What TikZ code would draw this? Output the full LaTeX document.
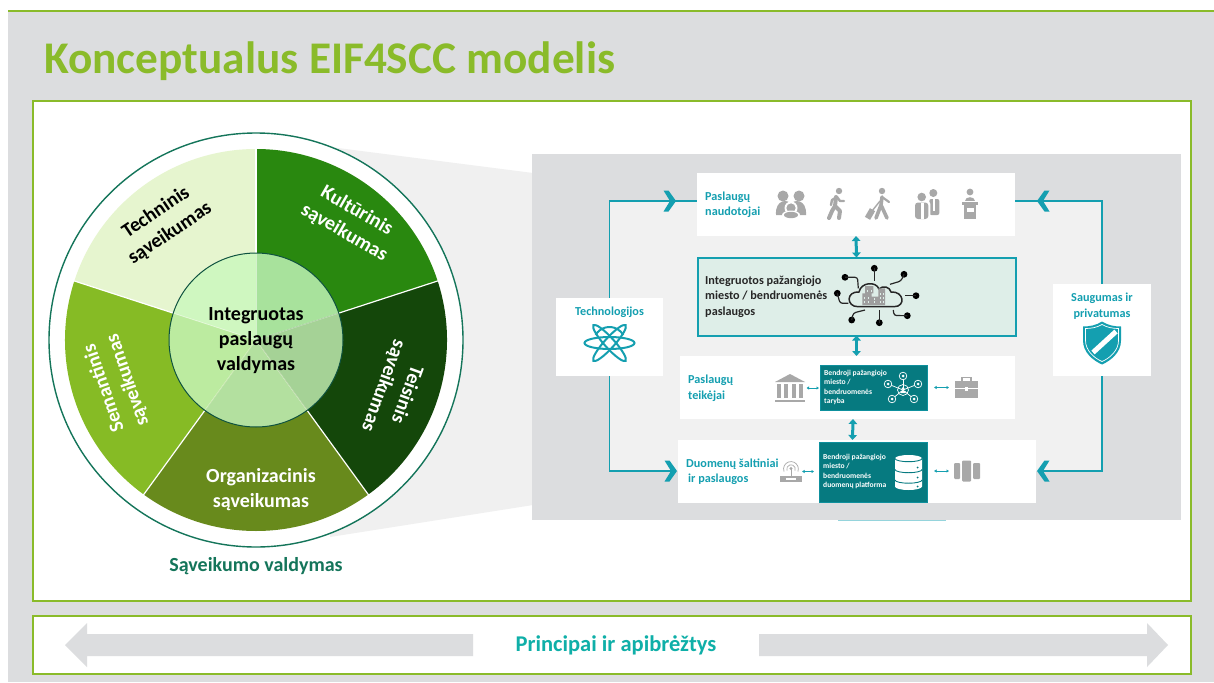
\documentclass[tikz,border=0pt]{standalone}
\usepackage{fontspec}
\setmainfont{Carlito}
\usetikzlibrary{arrows.meta,calc}

\definecolor{pagegrey}{HTML}{DCDDDF}
\definecolor{conegrey}{HTML}{F0F0F0}
\definecolor{limeline}{HTML}{8ABB2A}
\definecolor{looplight}{HTML}{F1F1F1}
\definecolor{loopteal}{HTML}{149FB0}
\definecolor{boardteal}{HTML}{067A80}
\definecolor{mintfill}{HTML}{DEEEE8}
\definecolor{icongrey}{HTML}{A8A8A8}
\definecolor{ringgreen}{HTML}{14755A}
\definecolor{princteal}{HTML}{0FAFA8}

\tikzset{
  frame/.style={draw=limeline, line width=2pt, fill=white},
  whitebox/.style={fill=white, inner sep=0pt, outer sep=0pt},
  darkbox/.style={fill=boardteal, draw=loopteal!60!boardteal, line width=.5pt, inner sep=0pt, outer sep=0pt},
  iconspot/.style={inner sep=0pt, outer sep=0pt},
  looptext/.style={text=loopteal, font=\fontsize{12.2}{15.5}\selectfont\bfseries, align=left, inner sep=0pt},
  boardtext/.style={text=white, font=\fontsize{7.6}{9.6}\selectfont\bfseries, align=left, inner sep=0pt, anchor=west},
  wheeltext/.style={font=\fontsize{20}{25}\selectfont\bfseries, align=center, inner sep=0pt},
  loopline/.style={draw=loopteal, line width=1.8pt},
  bigarrow/.style={{Triangle[length=5pt,width=8.5pt]}-{Triangle[length=5pt,width=8.5pt]}, draw=loopteal, line width=3pt},
  tinyarrow/.style={{Latex[length=2.5pt,width=3.5pt]}-{Latex[length=2.5pt,width=3.5pt]}, draw=loopteal, line width=.8pt},
  pics/chevron/.style={code={
    \fill[loopteal] (-6.5,10.5) -- (-1.5,10.5) -- (6,0) -- (-1.5,-10.5) -- (-6.5,-10.5) -- (0,0) -- cycle;}},
  pics/family/.style={code={
    \fill[icongrey] (-8,9) circle (5.5) (8,9) circle (5.5);
    \fill[icongrey] (-15,-10) .. controls (-16,6) and (-3,6) .. (0,1) .. controls (3,6) and (16,6) .. (15,-10) -- cycle;
    \fill[white] (0,-3) circle (6.5);
    \fill[icongrey] (0,-3) circle (4.6);
    \fill[white] (-8,-14) rectangle (8,-10.5);
    \fill[white] (0,-10) ellipse (9 and 4.5);
    \fill[icongrey] (0,-10) ellipse (7 and 3.2);}},
  pics/walker/.style={code={
    \fill[icongrey] (2,14) circle (3.2);
    \draw[icongrey, line width=4pt, line cap=round, line join=round] (-1,8) -- (-2,-1) -- (3,-6) -- (2,-13);
    \draw[icongrey, line width=4pt, line cap=round, line join=round] (-2,-1) -- (-5,-6) -- (-8,-13);
    \draw[icongrey, line width=2.4pt, line cap=round, line join=round] (0,8) -- (-5,5) -- (-6,0);
    \draw[icongrey, line width=2.4pt, line cap=round, line join=round] (0,8) -- (3,4) -- (7,4);}},
  pics/traveler/.style={code={
    \fill[icongrey] (2,14) circle (3.2);
    \draw[icongrey, line width=3.6pt, line cap=round, line join=round] (2,8) -- (1,0) -- (-4,-13);
    \draw[icongrey, line width=3.6pt, line cap=round, line join=round] (1,0) -- (7,-13);
    \draw[icongrey, line width=2.2pt, line cap=round, line join=round] (2,8) -- (9,3);
    \draw[icongrey, line width=1.4pt] (0,4) -- (-8,-6);
    \fill[icongrey, rotate around={-30:(-10,-9)}] (-13,-14) rectangle (-7,-4);}},
  pics/partners/.style={code={
    \fill[icongrey] (6.3,12) circle (4);
    \fill[icongrey, rounded corners=2pt] (2.3,-10) rectangle (12.3,6);
    \fill[white] (5.8,-6) rectangle (8,6);
    \fill[white, rounded corners=2pt] (0.3,-15) rectangle (3.3,3);
    \fill[icongrey] (-5.3,8) circle (4.3);
    \fill[icongrey, rounded corners=3pt] (-12,-14) rectangle (1.3,2.5);
    \fill[white] (-6.5,2.5) rectangle (-3.5,-14);}},
  pics/podium/.style={code={
    \fill[icongrey] (0,13) circle (3.4);
    \fill[icongrey] (-5,4) .. controls (-5,9) and (5,9) .. (5,4) -- cycle;
    \fill[icongrey] (-8,3) rectangle (8,0);
    \fill[icongrey] (-6,0) rectangle (6,-14);
    \fill[white] (-3.5,-3) rectangle (3.5,-7);}},
  pics/bank/.style={code={
    \fill[icongrey] (-15,6) -- (0,14) -- (15,6) -- cycle;
    \fill[icongrey] (-15,-11.5) rectangle (15,-14);
    \foreach \colx in {-11,-3.7,3.7,11} {
      \fill[icongrey] (\colx-2,4) rectangle (\colx+2,-10);}}},
  pics/briefcase/.style={code={
    \fill[icongrey] (-11.5,-10.5) rectangle (11.5,7);
    \draw[icongrey, line width=1.2pt] (-4.5,7) -- (-4.5,10) -- (4.5,10) -- (4.5,7);
    \draw[white, line width=.6pt] (-11.5,-1) -- (11.5,-1);
    \fill[white] (-1.5,-3) rectangle (1.5,1);}},
  pics/router/.style={code={
    \fill[icongrey] (-11,-10.5) rectangle (11,-4);
    \fill[white] (-5,-8) rectangle (5,-6.5);
    \draw[icongrey, line width=.8pt] (0,-4) -- (0,3);
    \fill[icongrey] (0,3) circle (1.6);
    \draw[icongrey, line width=.7pt] (-4,1) arc (200:-20:4.3);
    \draw[icongrey, line width=.7pt] (-7,0) arc (200:-20:7.4);}},
  pics/servers/.style={code={
    \fill[icongrey, rounded corners=1pt] (-13,-8) rectangle (-7,8);
    \fill[icongrey, rounded corners=1pt] (-5,-10.5) rectangle (4,10.5);
    \fill[icongrey, rounded corners=1pt] (6,-8) rectangle (13,8);}},
  pics/atom/.style={code={
    \begin{scope}[loopteal, line width=2pt]
      \draw (0,0) ellipse (25 and 6);
      \draw[rotate=48] (0,0) ellipse (24 and 5);
      \draw[rotate=-48] (0,0) ellipse (24 and 5);
      \draw (-13.9,8) arc (150:30:16);
    \end{scope}}},
  pics/shield/.style={code={
    \fill[loopteal] (0,22) .. controls (6,18) and (13,17) .. (19,17) -- (19,3) .. controls (19,-9) and (9,-17) .. (0,-21)
      .. controls (-9,-17) and (-19,-9) .. (-19,3) -- (-19,17) .. controls (-13,17) and (-6,18) .. (0,22) -- cycle;
    \draw[white, line width=.7pt] (0,19) .. controls (5,16) and (11,15) .. (16.5,15) -- (16.5,3) .. controls (16.5,-7) and (8,-14.5) .. (0,-18)
      .. controls (-8,-14.5) and (-16.5,-7) .. (-16.5,3) -- (-16.5,15) .. controls (-11,15) and (-5,16) .. (0,19) -- cycle;
    \draw[white, line width=5pt] (-9,-9) -- (14,12);}},
}

\begin{document}
\begin{tikzpicture}[x=1pt,y=1pt]
\useasboundingbox (0,0) rectangle (1214,-682);
\fill[white] (0,0) rectangle (1214,-682);
\fill[pagegrey] (8,-11) rectangle (1214,-682);
\draw[limeline, line width=2.4pt] (8,-11) -- (1214,-11);
\node[anchor=west, inner sep=0pt, text=limeline, font=\fontsize{45.3}{45}\selectfont\bfseries] (title) at (44,-61.5) {Konceptualus EIF4SCC modelis};

% frames
\draw[frame] (33,-101) rectangle (1191,-601);
\draw[frame] (33,-616) rectangle (1191,-674);

% cone towards the panel
\fill[conegrey] (330,-147) -- (533,-173) -- (533,-505) -- (330,-537) -- cycle;

% wheel
\coordinate (hub) at (256,-340);
\draw[ringgreen, line width=1.4pt, fill=white] (hub) circle (207);
\foreach \angA/\angB/\slice/\core in {
  18/90/29880F/A8E29C, -54/18/14470A/A5D296, -126/-54/688A1C/B3E09F,
  162/234/86BB25/BCEBA0, 90/162/E6F5CF/CFF7C0} {
  \definecolor{slicecol}{HTML}{\slice}
  \definecolor{corecol}{HTML}{\core}
  \fill[slicecol] (hub) -- ++(\angA:191) arc (\angA:\angB:191) -- cycle;
  \fill[corecol] (hub) -- ++(\angA:87) arc (\angA:\angB:87) -- cycle;
}
\foreach \ang in {18,90,162,234,306} {
  \draw[white, line width=1.2pt] ($(hub)+(\ang:87)$) -- ($(hub)+(\ang:191.5)$);
  \draw[white, opacity=.45, line width=.8pt] (hub) -- ($(hub)+(\ang:87)$);
}
\draw[ringgreen!70!black, line width=1pt] (hub) circle (87);
\node[wheeltext, text=black] (core) at (256,-341) {Integruotas\\paslaugų\\valdymas};
\node[wheeltext, text=black, rotate=34] (techlabel) at (163,-223) {Techninis\\sąveikumas};
\node[wheeltext, text=white, rotate=-30] (cultlabel) at (350.5,-222) {Kultūrinis\\sąveikumas};
\node[wheeltext, text=white, rotate=-110] (lawlabel) at (395,-390) {Teisinis\\sąveikumas};
\node[wheeltext, text=white] (orglabel) at (261,-490) {Organizacinis\\sąveikumas};
\node[wheeltext, text=white, rotate=109] (semlabel) at (116,-384) {Semantinis\\sąveikumas};
\node[inner sep=0pt, text=ringgreen, font=\fontsize{20}{22}\selectfont\bfseries] (govlabel) at (256,-566) {Sąveikumo valdymas};

% panel
\fill[pagegrey] (532,-154) rectangle (1181,-520);
\fill[looplight] (610,-201) rectangle (1103,-471);
\draw[loopteal!45, line width=.8pt] (838,-520.5) -- (946,-520.5);

% boxes of the loop
\node[whitebox, minimum width=318pt, minimum height=63pt] (users) at (856,-204.5) {};
\node[fill=mintfill, draw=loopteal, line width=2pt, inner sep=0pt, outer sep=0pt, minimum width=318pt, minimum height=78pt] (services) at (856.5,-296.5) {};
\node[whitebox, minimum width=335pt, minimum height=63pt] (providers) at (847.5,-387.5) {};
\node[whitebox, minimum width=358pt, minimum height=63pt] (sources) at (857,-471.5) {};
\node[whitebox, minimum width=107pt, minimum height=78pt] (tech) at (609.5,-337) {};
\node[whitebox, minimum width=98pt, minimum height=92pt] (secure) at (1102,-330) {};
\node[darkbox, minimum width=107pt, minimum height=45pt] (board) at (873.5,-387.5) {};
\node[darkbox, minimum width=108pt, minimum height=60pt] (platform) at (873,-472) {};

% loop lines
\coordinate (chevUsersL) at (670,-201);
\coordinate (chevUsersR) at (1043,-201);
\coordinate (chevSourcesL) at (671,-471);
\coordinate (chevSourcesR) at (1043,-471);
\draw[loopline] (tech.north) |- (chevUsersL) -- (users.west |- chevUsersL);
\draw[loopline] (tech.south) |- (chevSourcesL);
\draw[loopline] (secure.north) |- (chevUsersR) -- (users.east |- chevUsersR);
\draw[loopline] (secure.south) |- (chevSourcesR);
\pic at (chevUsersL) {chevron};
\pic at (chevSourcesL) {chevron};
\pic[rotate=180] at (chevUsersR) {chevron};
\pic[rotate=180] at (chevSourcesR) {chevron};

\draw[bigarrow] (users.south) -- (services.north);
\draw[bigarrow] (services.south) -- (services.south |- providers.north);
\draw[bigarrow] ([xshift=5.5pt]providers.south) -- ([xshift=-20.5pt]platform.north |- sources.north);

% text
\node[looptext, anchor=west] (userstext) at (705,-204.5) {Paslaugų\\naudotojai};
\node[inner sep=0pt, anchor=west, align=left, text=black!85, font=\fontsize{12.2}{15.5}\selectfont\bfseries] (servicestext) at (705,-296.5) {Integruotos pažangiojo\\miesto / bendruomenės\\paslaugos};
\node[looptext, anchor=west] (providerstext) at (688,-388) {Paslaugų\\teikėjai};
\node[looptext, anchor=west] (sourcestext) at (686,-471.5) {Duomenų šaltiniai\\\hspace{2pt}ir paslaugos};
\node[looptext] (techtext) at (609.5,-312) {Technologijos};
\node[looptext, align=center] (securetext) at (1102,-306) {Saugumas ir\\privatumas};
\node[boardtext] (boardtext) at (824,-387.5) {Bendroji pažangiojo\\miesto /\\bendruomenės\\taryba};
\node[boardtext] (platformtext) at (823,-471.5) {Bendroji pažangiojo\\miesto /\\bendruomenės\\duomenų platforma};

% grey icons
\pic at (791,-205) {family};
\pic at (837,-205) {walker};
\pic at (880,-205) {traveler};
\pic at (927,-205) {partners};
\pic at (970,-205) {podium};

\node[iconspot, minimum width=31pt, minimum height=29pt] (bank) at (790,-388) {};
\node[iconspot, minimum width=23pt, minimum height=21pt] (case) at (966.5,-387.5) {};
\node[iconspot, minimum width=22pt, minimum height=21pt] (router) at (791,-471.5) {};
\node[iconspot, minimum width=26pt, minimum height=21pt] (racks) at (967,-471) {};
\pic at (bank) {bank};
\pic at (case) {briefcase};
\pic at (router) {router};
\pic at (racks) {servers};
\draw[tinyarrow, shorten <=1pt, shorten >=1pt] (bank.east) -- (board.west |- bank.east);
\draw[tinyarrow, shorten <=7pt, shorten >=6pt] (board.east |- case.west) -- (case.west);
\draw[tinyarrow, shorten >=5pt] (router.east) -- (platform.west |- router.east);
\draw[tinyarrow, shorten <=7pt, shorten >=5pt] (platform.east |- racks.west) -- (racks.west);

% cloud
\begin{scope}[shift={(877,-297)}]
  \draw[black!85, line width=1.5pt]
    (-19,-9.7) .. controls (-31,-9.7) and (-31,6) .. (-18,5) .. controls (-16,15) and (-1,16) .. (2,8)
    .. controls (6,12) and (13,10) .. (14,5) .. controls (27,6) and (29,-9.7) .. (17,-9.7) -- cycle;
  \fill[black!38] (-14.7,-8) rectangle (-5.3,3.7) (-12,3.7) rectangle (-3.7,11) (-5.3,-8) rectangle (1.3,.3) (1.3,-8) rectangle (8,8.7);
  \foreach \spotx/\spoty in {-13/-6,-13/-2,-9/-6,-9/-2,-10/5,-6.5/5,-3.5/-6,-3.5/-3,3/-6,3/-2,3/2,5.5/-6,5.5/-2,5.5/2} {
    \fill[mintfill] (\spotx,\spoty) rectangle ++(1.4,2);
  }
  \foreach \dotx/\doty/\turnx/\turny/\endx/\endy in {
    -2.7/28.7/-2.7/22/-2.7/16.3, 27/22.7/24/16/13/12.7, 39/1.3/33/1.3/28/1.3,
    30.3/-18.7/17/-18.5/16.3/-13, 2.3/-25.7/2.3/-20/2.3/-13, -25.3/-23/-23.7/-16/-12/-13,
    -39.7/3.7/-37/-6.3/-28.7/-6.3, -32/19.7/-19.5/19.7/-18.7/8.7} {
    \fill[black] (\dotx,\doty) circle (3.4);
    \draw[black!85, line width=1.2pt, rounded corners=2.5pt] (\dotx,\doty) -- (\turnx,\turny) -- (\endx,\endy);
  }
\end{scope}

% network mark on the board
\begin{scope}[shift={(903,-390)}, white, line width=.7pt]
  \draw (0,0) circle (5.5);
  \fill (0,1.5) circle (1.5) (-2.5,-3) rectangle (2.5,-1);
  \foreach \satx/\saty in {0/14, 15/6, 11/-9, -11/-9, -15/6} {
    \draw (0,0) -- (\satx,\saty);
    \draw[fill=boardteal] (\satx,\saty) circle (3.8);
    \fill (\satx,\saty) circle (1.5);
  }
\end{scope}

% data store mark
\begin{scope}[shift={(908.5,-472.5)}]
  \fill[white] (-13.5,14) rectangle (13.5,-14) (0,14) ellipse (13.5 and 3.5) (0,-14) ellipse (13.5 and 3.5);
  \foreach \bandy in {14,3,-7.5} {
    \draw[boardteal, line width=.9pt] (-13.5,\bandy) arc (180:360:13.5 and 3.2);
  }
  \foreach \bandy in {5,-5,-14} {
    \fill[boardteal] (9,\bandy) circle (1);
  }
\end{scope}

\pic at (609.5,-343) {atom};
\pic at (1102,-343.5) {shield};

% bottom band
\fill[pagegrey] (473,-634) -- (87,-634) -- (87,-623) -- (65,-645) -- (87,-667) -- (87,-656) -- (473,-656) -- cycle;
\fill[pagegrey] (759,-634) -- (1147,-634) -- (1147,-623) -- (1168,-645) -- (1147,-667) -- (1147,-656) -- (759,-656) -- cycle;
\node[inner sep=0pt, text=princteal, font=\fontsize{22.5}{24}\selectfont\bfseries] (principles) at (616,-645) {Principai ir apibrėžtys};
\end{tikzpicture}
\end{document}
